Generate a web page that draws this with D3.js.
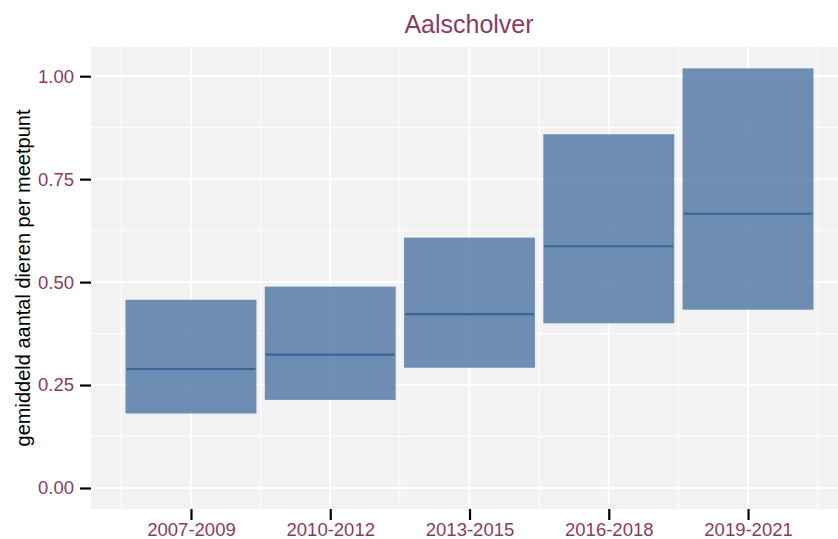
<!DOCTYPE html>
<html>
<head>
<meta charset="utf-8">
<script src="https://cdn.jsdelivr.net/npm/d3@7"></script>
<style>
  body { margin: 0; background: #fff; }
  text { font-family: "Liberation Sans", Arial, sans-serif; }
</style>
</head>
<body>
<div id="chart"></div>
<script>
// data
const periods = ["2007-2009", "2010-2012", "2013-2015", "2016-2018", "2019-2021"];
const lower = [0.181, 0.214, 0.292, 0.400, 0.433];
const upper = [0.457, 0.489, 0.608, 0.859, 1.019];
const middle = [0.289, 0.324, 0.422, 0.587, 0.666];
const yTicks = [0, 0.25, 0.5, 0.75, 1.0];

const width = 838, height = 539;
const margin = { top: 47, right: 0, bottom: 30, left: 91 };
const purple = "#8b3a62";

const rows = periods.map((p, i) => ({ key: p, idx: i + 1, lo: lower[i], hi: upper[i], mid: middle[i] }));

const svg = d3.select("#chart") // create the SVG
  .append("svg")
  .attr("width", width)
  .attr("height", height);

const x = d3.scaleLinear() // continuous x, categories at 1..5
  .domain([0.282, 5.646])
  .range([margin.left, width - margin.right]);

const y = d3.scaleLinear()
  .domain([-0.051, 1.0709])
  .range([height - margin.bottom, margin.top]);

// panel
svg.append("rect")
  .attr("x", margin.left)
  .attr("y", margin.top)
  .attr("width", width - margin.right - margin.left)
  .attr("height", height - margin.bottom - margin.top)
  .attr("fill", "#f2f2f2");

// grid lines
const yMinor = [0.125, 0.375, 0.625, 0.875];
const xMinor = [0.5, 1.5, 2.5, 3.5, 4.5, 5.5];
const grid = svg.append("g").attr("stroke", "#fff");

grid.selectAll(".ymin").data(yMinor).enter().append("line")
  .attr("x1", margin.left).attr("x2", width - margin.right)
  .attr("y1", d => y(d)).attr("y2", d => y(d))
  .attr("stroke-width", 1);
grid.selectAll(".xmin").data(xMinor).enter().append("line")
  .attr("y1", margin.top).attr("y2", height - margin.bottom)
  .attr("x1", d => x(d)).attr("x2", d => x(d))
  .attr("stroke-width", 1);
grid.selectAll(".ymaj").data(yTicks).enter().append("line")
  .attr("x1", margin.left).attr("x2", width - margin.right)
  .attr("y1", d => y(d)).attr("y2", d => y(d))
  .attr("stroke-width", 2);
grid.selectAll(".xmaj").data(rows).enter().append("line")
  .attr("y1", margin.top).attr("y2", height - margin.bottom)
  .attr("x1", d => x(d.idx)).attr("x2", d => x(d.idx))
  .attr("stroke-width", 2);

// bars (lower - upper range)
const bw = 0.94;
svg.selectAll(".bar").data(rows).enter().append("rect")
  .attr("class", "bar")
  .attr("x", d => x(d.idx - bw / 2))
  .attr("width", x(bw) - x(0))
  .attr("y", d => y(d.hi))
  .attr("height", d => y(d.lo) - y(d.hi))
  .attr("fill", "rgb(98,132,173)")
  .attr("fill-opacity", 0.92);

// middle lines
svg.selectAll(".mid").data(rows).enter().append("line")
  .attr("x1", d => x(d.idx - bw / 2) + 1)
  .attr("x2", d => x(d.idx + bw / 2) - 1)
  .attr("y1", d => y(d.mid)).attr("y2", d => y(d.mid))
  .attr("stroke", "#3a6497")
  .attr("stroke-width", 2.2);

// Y axis
const yAxis = svg.append("g")
  .attr("transform", `translate(${margin.left},0)`)
  .call(d3.axisLeft(y).tickValues(yTicks).tickFormat(d3.format(".2f")).tickSize(11).tickPadding(6));
yAxis.select(".domain").remove();
yAxis.selectAll(".tick line").attr("stroke", "#000").attr("stroke-width", 2.2);
yAxis.selectAll(".tick text").attr("fill", purple).attr("font-size", 18.5)
  .attr("font-family", "Liberation Sans, Arial, sans-serif");

// X axis
const xAxis = svg.append("g")
  .attr("transform", `translate(0,${height - margin.bottom})`)
  .call(d3.axisBottom(x).tickValues(rows.map(d => d.idx)).tickFormat(d => periods[d - 1]).tickSize(11).tickPadding(3));
xAxis.select(".domain").remove();
xAxis.selectAll(".tick line").attr("stroke", "#000").attr("stroke-width", 2.2);
xAxis.selectAll(".tick text").attr("fill", purple).attr("font-size", 18.5)
  .attr("font-family", "Liberation Sans, Arial, sans-serif");

// title
svg.append("text")
  .attr("x", 469)
  .attr("y", 33)
  .attr("text-anchor", "middle")
  .attr("fill", purple)
  .attr("font-size", 25)
  .text("Aalscholver");

// Y axis label
svg.append("text")
  .attr("transform", "rotate(-90)")
  .attr("x", -(margin.top + height - margin.bottom) / 2)
  .attr("y", 30)
  .attr("text-anchor", "middle")
  .attr("fill", "#000")
  .attr("font-size", 20)
  .text("gemiddeld aantal dieren per meetpunt");
</script>
</body>
</html>
